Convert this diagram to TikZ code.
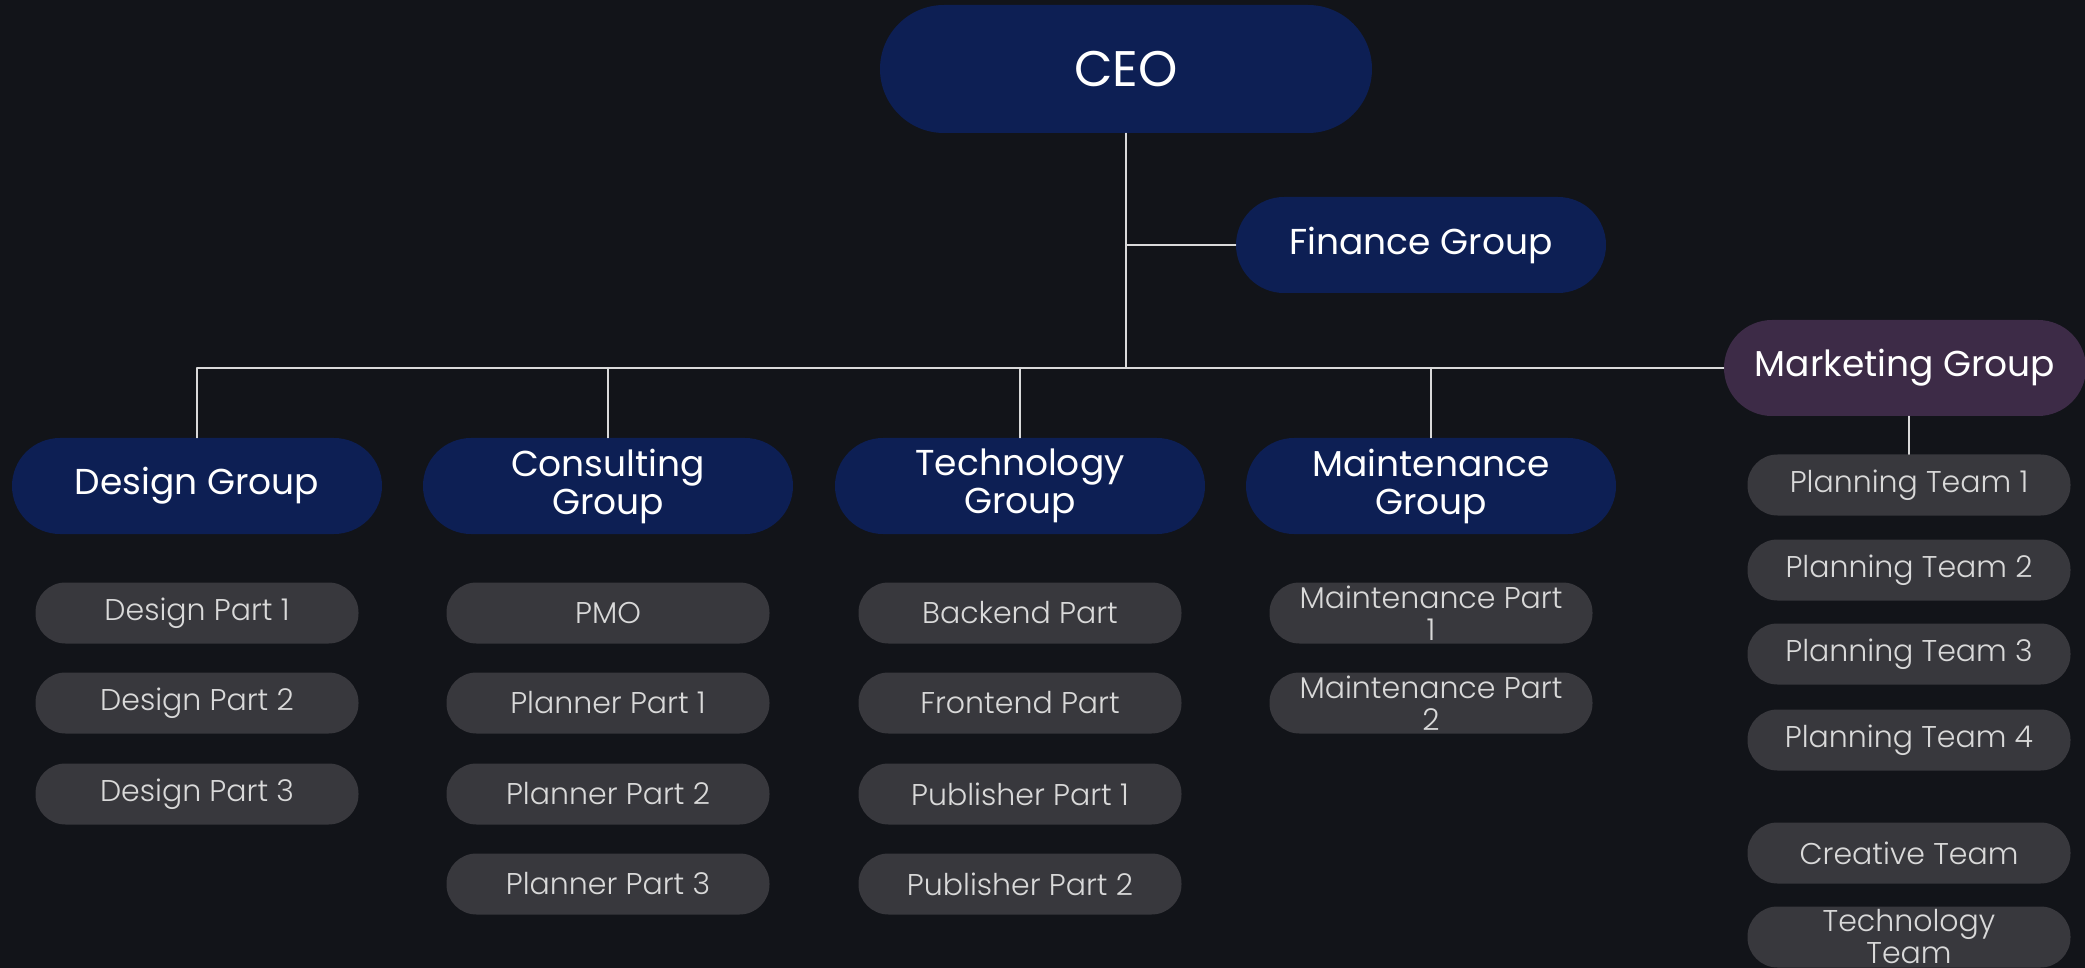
\documentclass[tikz,border=0pt]{standalone}
\usepackage{fontspec}
\setmainfont{Poppins}
\newfontfamily\lightfont{Poppins Light}
\usepackage{tikz}
\usetikzlibrary{arrows}
\definecolor{bgdark}{rgb}{0.07,0.08,0.1}
\definecolor{qqttzz}{rgb}{0.05,0.12,0.33}
\definecolor{ttqqtt}{rgb}{0.24,0.17,0.28}
\definecolor{grpart}{rgb}{0.22,0.22,0.24}
\definecolor{cqcqcq}{rgb}{0.85,0.85,0.85}

\begin{document}
\begin{tikzpicture}[line cap=round,line join=round,x=0.5pt,y=-0.5pt,
  grp/.style={fill=qqttzz,text=white,rounded corners=24pt,minimum width=185pt,minimum height=48pt,inner sep=0pt,align=center,font=\fontsize{18}{19}\selectfont},
  ceobox/.style={grp,minimum width=246pt,minimum height=64pt,rounded corners=32pt,font=\fontsize{25}{28}\selectfont},
  mktbox/.style={grp,fill=ttqqtt,minimum width=181pt},
  part/.style={fill=grpart,text=cqcqcq,rounded corners=15pt,minimum width=161.5pt,minimum height=30.5pt,inner sep=0pt,align=center,font=\lightfont\fontsize{15}{16}\selectfont},
  link/.style={color=cqcqcq,line width=0.75pt}]
\useasboundingbox (0,0) rectangle (2085,968);
\fill[color=bgdark] (0,0) rectangle (2085,968);
% top of the chart
\node[ceobox] (ceo) at (1126,69) {CEO};
\node[grp] (fin) at (1421,245) {Finance Group};
\node[mktbox] (mkt) at (1905,368) {Marketing Group};
% groups
\node[grp] (design) at (197,486) {Design Group};
\node[grp] (cons) at (608,486) {Consulting\\Group};
\node[grp] (tech) at (1020,486) {Technology\\Group};
\node[grp] (maint) at (1431,486) {Maintenance\\Group};
% parts
\foreach \t/\y [count=\i] in {Design Part 1/613,Design Part 2/703,Design Part 3/794}
\node[part] (des\i) at (197,\y) {\t};
\foreach \t/\y [count=\i] in {PMO/613,Planner Part 1/703,Planner Part 2/794,Planner Part 3/884}
\node[part] (con\i) at (608,\y) {\t};
\foreach \t/\y [count=\i] in {Backend Part/613,Frontend Part/703,Publisher Part 1/794,Publisher Part 2/884}
\node[part] (tec\i) at (1020,\y) {\t};
\foreach \t/\y [count=\i] in {{Maintenance Part\\1}/613,{Maintenance Part\\2}/703}
\node[part] (mnt\i) at (1431,\y) {\t};
\foreach \t/\y [count=\i] in {Planning Team 1/485,Planning Team 2/570,Planning Team 3/654,Planning Team 4/740,Creative Team/853,{Technology\\Team}/937}
\node[part] (mkt\i) at (1909,\y) {\t};
% links
\draw[link] (ceo.south) -- (ceo.south |- mkt.west);
\draw[link] (ceo.south |- fin.west) -- (fin.west);
\draw[link] (design.north) |- (mkt.west);
\foreach \g in {cons,tech,maint}
\draw[link] (\g.north) -- (\g.north |- mkt.west);
\draw[link] (mkt.south -| mkt1.north) -- (mkt1.north);
\end{tikzpicture}
\end{document}
